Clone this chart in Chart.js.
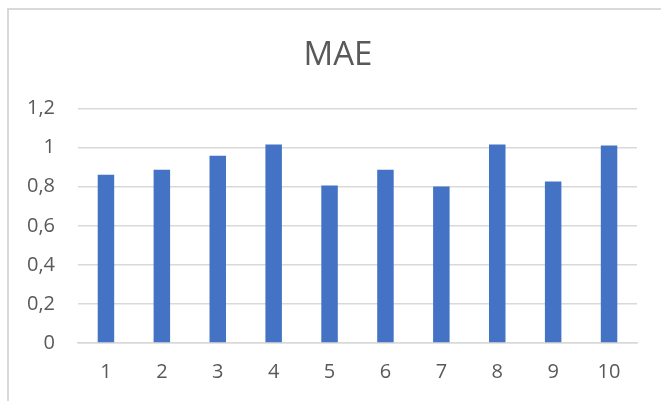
<!DOCTYPE html>
<html>
<head>
	<title>MAE</title>
	<style>
		body { margin: 0; overflow: hidden; background: #fff; }
		#frame { position: absolute; left: 7px; top: 8px; width: 700px; height: 500px; border: 2px solid #d9d9d9; box-sizing: border-box; }
		#wrap { position: absolute; left: 0; top: 0; width: 661px; height: 401px; }
	</style>
</head>
<body>
	<div id="frame"></div>
	<div id="wrap"><canvas id="myChart" width="661" height="401"></canvas></div>
	<script src="https://cdn.jsdelivr.net/npm/chart.js@4"></script>
	<script type="text/javascript">
	// data
	var runs = ['1', '2', '3', '4', '5', '6', '7', '8', '9', '10'];
	var maeValues = [0.861, 0.887, 0.958, 1.016, 0.806, 0.887, 0.801, 1.016, 0.827, 1.011];
	var yTicks = [0, 0.2, 0.4, 0.6, 0.8, 1, 1.2];

	var grey = '#595959';

	// the title sits centred over the whole frame, not just the plot
	var shiftTitle = {
		id: 'shiftTitle',
		afterLayout: function (chart) {
			if (chart.titleBlock) chart.titleBlock.left = 39;
		}
	};

	var ctx = document.getElementById('myChart').getContext('2d');
	var chart = new Chart(ctx, {
		type: 'bar',
		data: {
			labels: runs,
			datasets: [{
				label: 'MAE',
				data: maeValues,
				backgroundColor: '#4472c4',
				borderWidth: 0,
				barPercentage: 0.59,
				categoryPercentage: 0.5
			}]
		},
		options: {
			responsive: false,
			animation: false,
			layout: { padding: { left: 0, right: 24, top: 0, bottom: 0 } },
			plugins: {
				legend: { display: false },
				tooltip: { enabled: false },
				title: {
					display: true,
					text: 'MAE',
					color: grey,
					font: { family: 'Open Sans', size: 33, weight: 'normal' },
					padding: { top: 36, bottom: 33 }
				}
			},
			scales: {
				x: {
					grid: { display: false, drawTicks: false },
					border: { color: '#d9d9d9', width: 1.5 },
					ticks: { color: grey, font: { family: 'Open Sans', size: 20 }, padding: 17 }
				},
				y: {
					min: 0,
					max: 1.2,
					afterFit: function (scale) { scale.width = 78; },
					afterBuildTicks: function (scale) {
						scale.ticks = yTicks.map(function (v) { return { value: v }; });
					},
					grid: { color: '#d9d9d9', lineWidth: 1.5, drawTicks: false },
					border: { display: false },
					ticks: {
						color: grey,
						font: { family: 'Open Sans', size: 20 },
						padding: 23,
						callback: function (v) { return String(Number(v.toFixed(1))).replace('.', ','); }
					}
				}
			}
		},
		plugins: [shiftTitle]
	});
	</script>
</body>
</html>
